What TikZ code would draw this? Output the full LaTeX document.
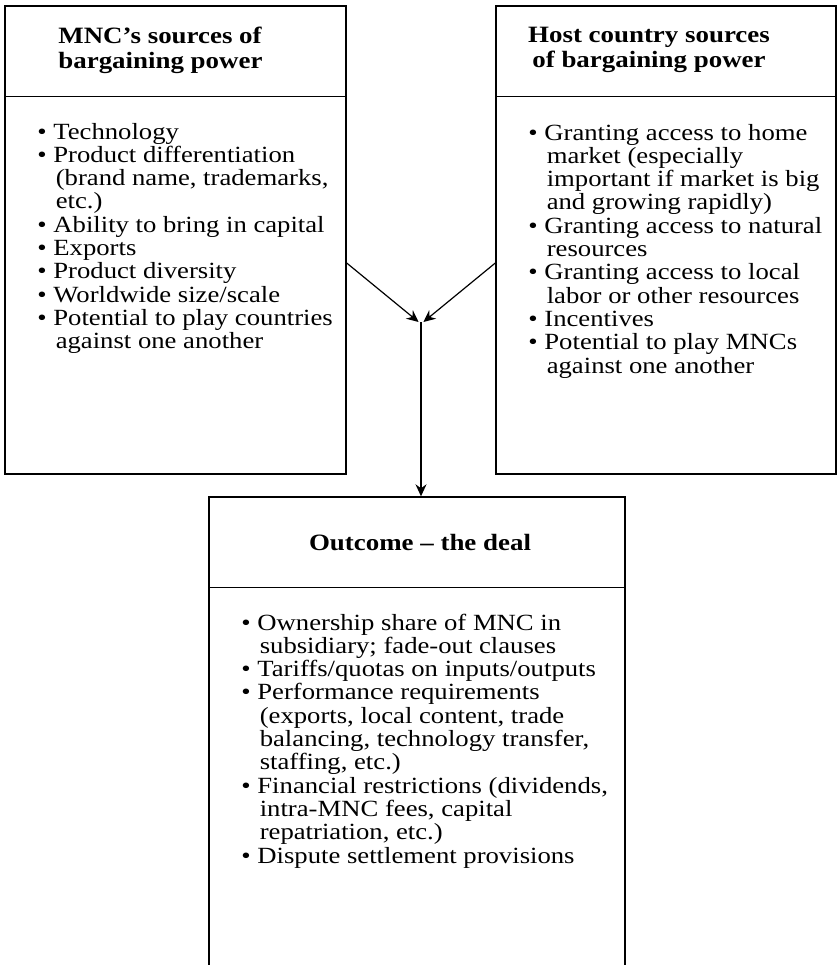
\documentclass[tikz,border=0pt]{standalone}
\usepackage{fontspec}
\setmainfont{Liberation Serif}[FakeStretch=1.15]
\usetikzlibrary{arrows.meta,positioning}
\newcommand{\hang}{\hspace*{9.2pt}}

\begin{document}
\begin{tikzpicture}[x=0.5pt,y=-0.5pt,
    box/.style={draw,line width=0.7pt,inner sep=0pt},
    rule/.style={line width=0.7pt},
    head/.style={font=\fontsize{11.7}{12.5}\selectfont\bfseries,inner sep=0pt},
    items/.style={font=\fontsize{11.6}{11.65}\selectfont,align=left,inner sep=0pt,anchor=base west},
    arr/.style={-{Stealth[length=6pt,width=5.5pt,inset=2pt]},line width=0.6pt}
]
\useasboundingbox (0,0) rectangle (837,965);
\clip (0,0) rectangle (837,965);
% the three boxes
\node[box,minimum width=170.5pt,minimum height=234pt] (mnc) at (175.5,240) {};
\node[box,minimum width=170pt,minimum height=234pt] (host) at (666,240) {};
\node[box,minimum width=208pt,minimum height=251.5pt] (deal) at (417,748.5) {};
\draw[rule] ([yshift=-45.5pt]mnc.north west) -- ([yshift=-45.5pt]mnc.north east);
\draw[rule] ([yshift=-45.5pt]host.north west) -- ([yshift=-45.5pt]host.north east);
\draw[rule] ([yshift=-45.5pt]deal.north west) -- ([yshift=-45.5pt]deal.north east);
% headings (anchored on the last line)
\node[head,align=left,anchor=base west] (mnchead) at (58,68) {MNC’s sources of\\bargaining power};
\node[head,align=center,anchor=base] (hosthead) at (649,67) {Host country sources\\of bargaining power};
\node[head,anchor=base] (dealhead) at (420,550) {Outcome – the deal};
% lists (anchored on the last line)
\node[items] (mnclist) at (37,348.7) {• Technology\\• Product differentiation\\\hang(brand name, trademarks,\\\hang etc.)\\• Ability to bring in capital\\• Exports\\• Product diversity\\• Worldwide size/scale\\• Potential to play countries\\\hang against one another};
\node[items] (hostlist) at (528,373) {• Granting access to home\\\hang market (especially\\\hang important if market is big\\\hang and growing rapidly)\\• Granting access to natural\\\hang resources\\• Granting access to local\\\hang labor or other resources\\• Incentives\\• Potential to play MNCs\\\hang against one another};
\node[items] (deallist) at (241,863) {• Ownership share of MNC in\\\hang subsidiary; fade-out clauses\\• Tariffs/quotas on inputs/outputs\\• Performance requirements\\\hang(exports, local content, trade\\\hang balancing, technology transfer,\\\hang staffing, etc.)\\• Financial restrictions (dividends,\\\hang intra-MNC fees, capital\\\hang repatriation, etc.)\\• Dispute settlement provisions};
% connectors
\coordinate (join) at (421,322);
\draw[arr] ([yshift=-11.5pt]mnc.east) -- ([xshift=-1.2pt]join);
\draw[arr] ([yshift=-11.5pt]host.west) -- ([xshift=1.2pt]join);
\draw[arr] (join) -- (join |- deal.north);
\end{tikzpicture}
\end{document}
